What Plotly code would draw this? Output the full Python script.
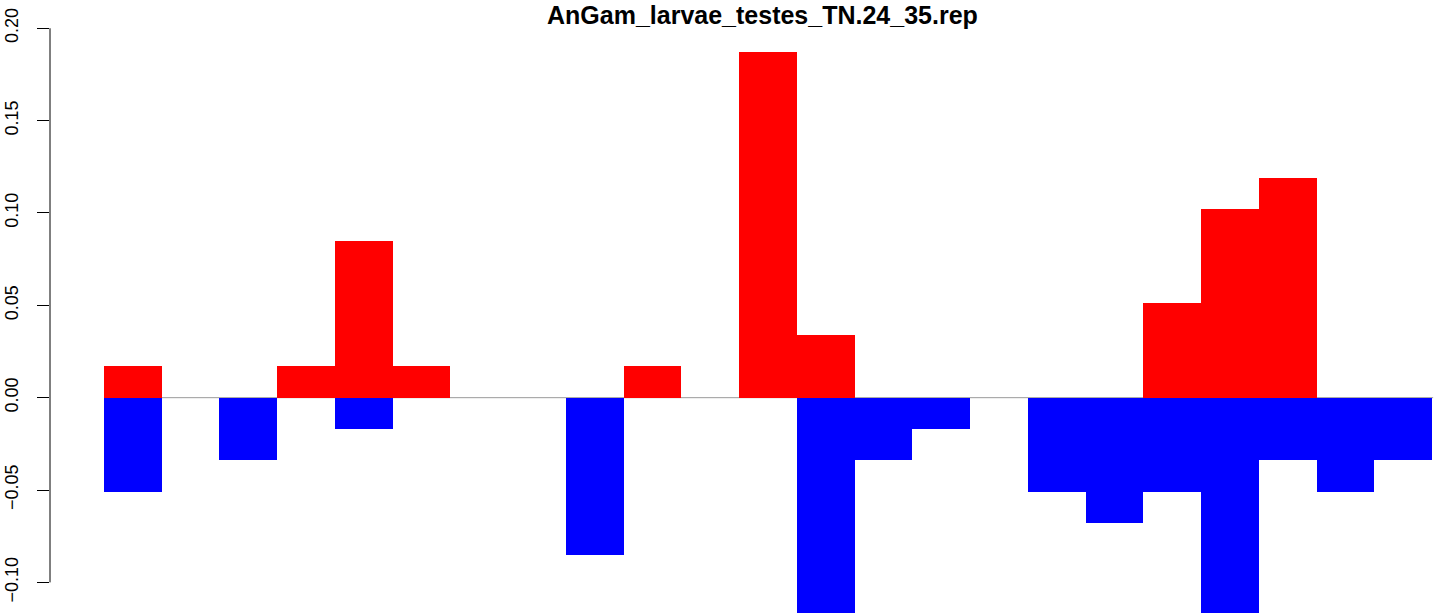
import plotly.graph_objects as go

title_text = "AnGam_larvae_testes_TN.24_35.rep"
bar_index = list(range(23))
red_values = [0.017, 0, 0, 0.017, 0.085, 0.017, 0, 0, 0, 0.017, 0, 0.187, 0.034,
              0, 0, 0, 0, 0, 0.051, 0.102, 0.119, 0, 0]
blue_values = [-0.051, 0, -0.034, 0, -0.017, 0, 0, 0, -0.085, 0, 0, 0, -0.119,
               -0.034, -0.017, 0, -0.051, -0.068, -0.051, -0.119, -0.034, -0.051, -0.034]
tick_vals = [-0.10, -0.05, 0.00, 0.05, 0.10, 0.15, 0.20]
tick_text = ["\u22120.10", "\u22120.05", "0.00", "0.05", "0.10", "0.15", "0.20"]

W, H = 1444, 613
L = 50
x_centers = [i + 0.5 for i in bar_index]

fig = go.Figure()
fig.add_trace(go.Bar(x=x_centers, y=red_values, width=1, marker=dict(color="#FF0000", line=dict(width=0)),
                     hoverinfo="skip", showlegend=False))
fig.add_trace(go.Bar(x=x_centers, y=blue_values, width=1, marker=dict(color="#0000FF", line=dict(width=0)),
                     hoverinfo="skip", showlegend=False))

# zero reference line
fig.add_shape(type="line", xref="x", yref="y", x0=0, x1=23.02, y0=0, y1=0,
              line=dict(color="#9a9a9a", width=1), layer="below")
# y axis line from first to last tick
fig.add_shape(type="line", xref="paper", yref="y", x0=0, x1=0, y0=tick_vals[0], y1=tick_vals[-1],
              line=dict(color="black", width=1))

fig.add_annotation(text="<b>" + title_text + "</b>", xref="paper", yref="paper",
                   x=(762.5 - L) / (W - L), y=1 - 15 / H, xanchor="center", yanchor="middle",
                   showarrow=False, font=dict(family="Liberation Sans, Arial, sans-serif", size=25, color="black"))

fig.update_layout(
    width=W, height=H,
    margin=dict(l=L, r=0, t=0, b=0, pad=0),
    paper_bgcolor="white", plot_bgcolor="white",
    barmode="overlay", bargap=0,
    font=dict(family="Liberation Sans, Arial, sans-serif", color="black"),
    xaxis=dict(range=[-0.935, 23.208], visible=False, showgrid=False, zeroline=False),
    yaxis=dict(range=[-0.11657, 0.2153], tickvals=tick_vals, ticktext=tick_text,
               ticks="outside", ticklen=12, tickwidth=1, tickcolor="black",
               tickangle=-90, tickfont=dict(size=18, color="black"), ticklabelstandoff=12,
               showgrid=False, zeroline=False, showline=False),
)

fig.write_html("out.html", config={"displayModeBar": False, "staticPlot": True},
               post_script="document.body.style.margin='0';document.body.style.padding='0';")
